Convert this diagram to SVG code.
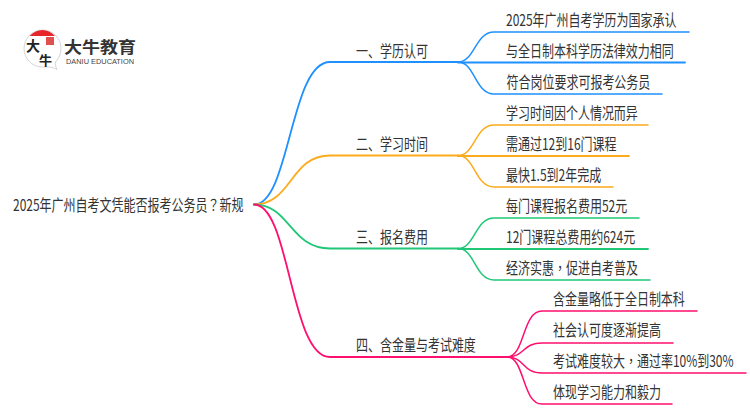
<svg xmlns="http://www.w3.org/2000/svg" width="750" height="410" viewBox="0 0 750 410">
<style>
text{font-family:"Noto Sans CJK SC","Liberation Sans",sans-serif;font-size:16px;fill:#333}
.tc{font-family:"Noto Sans CJK TC","Liberation Sans",sans-serif}
.c{fill:none;stroke-width:1.5;stroke-linecap:round}
.m{stroke-width:1.8}
.b{stroke:#1e90ff}.o{stroke:#fbab1c}.g{stroke:#1fc777}.p{stroke:#ff0f6f}
</style>
<rect width="750" height="410" fill="#fff"/>
<g id="connectors">
<path class="c m b" d="M254 204.500C290 204.500 290 62 330 62H458"/>
<path class="c b" d="M458 62C475 62 475 32 494 32H689"/>
<path class="c m b" d="M458 62.500H685"/>
<path class="c b" d="M458 62C475 62 475 94 494 94H662"/>
<path class="c m o" d="M254 204.500C292 204.500 290 155.500 330 155.500H458"/>
<path class="c o" d="M458 155.500C475 155.500 475 125 494 125H648"/>
<path class="c m o" d="M458 156H629"/>
<path class="c o" d="M458 155.500C475 155.500 475 187 494 187H613"/>
<path class="c m g" d="M254 204.500C290 204.500 290 248.500 330 248.500H458"/>
<path class="c g" d="M458 248.500C475 248.500 475 218 494 218H639"/>
<path class="c m g" d="M458 249H648"/>
<path class="c g" d="M458 248.500C475 248.500 475 280 494 280H650"/>
<path class="c m p" d="M254 204.500C290 204.500 290 357 330 357H507"/>
<path class="c p" d="M507 357C525 357 522 311 542 311H697"/>
<path class="c p" d="M507 357C525 357 522 343 542 343H673"/>
<path class="c p" d="M507 357C525 357 522 373 542 373H746"/>
<path class="c p" d="M507 357C525 357 522 404 542 404H672"/>
</g>
<g id="logo">
<path d="M42.500 30C32 30 24 38.500 24 48.500C24 58.500 32 67 42.500 67C47.500 67 52 66.500 57 69.500C55.500 66.500 55 64 55.500 62C59 58.500 61 53.500 61 48.500C61 38.500 53 30 42.500 30Z" fill="#fff" stroke="#c9c9c9" stroke-width="0.8"/>
<path d="M29.500 36C37 28 48 28 55 36Z" fill="#e5262a"/>
<rect x="46" y="37" width="8" height="8" fill="#e0504f"/>
<text x="26" y="51" style="font-size:14px;font-weight:700;fill:#222">大</text>
<text x="39" y="65" style="font-size:13px;font-weight:700;fill:#222">牛</text>
<text transform="translate(64 53) scale(1.125 1)" style="font-size:16px;font-weight:700;fill:#333">大牛教育</text>
<text x="66" y="63.500" textLength="68" lengthAdjust="spacingAndGlyphs" style="font-family:'Liberation Sans',sans-serif;font-size:7px;fill:#444">DANIU EDUCATION</text>
</g>
<g id="root"><text transform="translate(13 211) scale(.75 1)">2025年广州自考文凭能否报考公务员<tspan class="tc">？</tspan>新规</text></g>
<g id="n1"><text transform="translate(356 57) scale(.75 1)">一、学历认可</text></g>
<g id="n2"><text transform="translate(356 150) scale(.75 1)">二、学习时间</text></g>
<g id="n3"><text transform="translate(356 243) scale(.75 1)">三、报名费用</text></g>
<g id="n4"><text transform="translate(356 351) scale(.75 1)">四、含金量与考试难度</text></g>
<g id="n1a"><text transform="translate(506 25.500) scale(.75 1)">2025年广州自考学历为国家承认</text></g>
<g id="n1b"><text transform="translate(506 57) scale(.75 1)">与全日制本科学历法律效力相同</text></g>
<g id="n1c"><text transform="translate(506.500 87.500) scale(.75 1)">符合岗位要求可报考公务员</text></g>
<g id="n2a"><text transform="translate(506 118.500) scale(.75 1)">学习时间因个人情况而异</text></g>
<g id="n2b"><text transform="translate(506 149.500) scale(.75 1)">需通过12到16门课程</text></g>
<g id="n2c"><text transform="translate(506 180.500) scale(.75 1)">最快1.5到2年完成</text></g>
<g id="n3a"><text transform="translate(506 211.500) scale(.75 1)">每门课程报名费用52元</text></g>
<g id="n3b"><text transform="translate(506 242.500) scale(.75 1)">12门课程总费用约624元</text></g>
<g id="n3c"><text transform="translate(506 273.500) scale(.75 1)">经济实惠<tspan class="tc">，</tspan>促进自考普及</text></g>
<g id="n4a"><text transform="translate(553 304.500) scale(.75 1)">含金量略低于全日制本科</text></g>
<g id="n4b"><text transform="translate(553 336) scale(.75 1)">社会认可度逐渐提高</text></g>
<g id="n4c"><text transform="translate(553 366.500) scale(.75 1)">考试难度较大<tspan class="tc">，</tspan>通过率10%到30%</text></g>
<g id="n4d"><text transform="translate(553 397.500) scale(.75 1)">体现学习能力和毅力</text></g>
</svg>
